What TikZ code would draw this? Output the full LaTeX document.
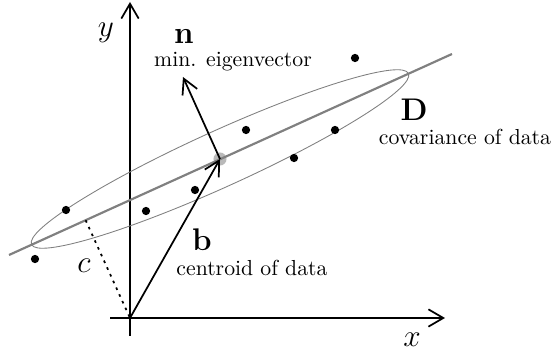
\documentclass[tikz,border=0pt]{standalone}
\usetikzlibrary{arrows.meta,calc}
\tikzset{
  axis/.style={thick, -{Straight Barb[length=2.4mm,width=2.8mm]}},
  vec/.style={thick, -{Straight Barb[length=2.4mm,width=2.6mm]}},
  fitline/.style={gray, line width=1pt},
  shell/.style={gray, line width=0.4pt},
  pt/.style={circle, fill=black, inner sep=0pt, minimum size=3.8pt},
  cpt/.style={circle, fill=gray!55, inner sep=0pt, minimum size=6pt},
  sym/.style={font=\Large},
  desc/.style={font=\normalsize}}

\begin{document}
\begin{tikzpicture}[x=0.46pt, y=0.46pt]
  \useasboundingbox (0,0) rectangle (556,355);
  % axes
  \coordinate (orig) at (130,37);
  \coordinate (xl) at (110,37); \coordinate (xr) at (445,37);
  \coordinate (yb) at (130,19); \coordinate (yt) at (130,353);
  \draw[axis] (xl) -- (xr);
  \draw[axis] (yb) -- (yt);
  \node[sym] (xlab) at (412,15) {$x$};
  \node[sym] (ylab) at (106,322) {$y$};
  % fitted line and covariance ellipse
  \coordinate (la) at (9,100); \coordinate (lb) at (452,301);
  \node[cpt] (cen) at (220,196) {};
  \draw[shell, rotate around={24.4:(cen.center)}] (cen.center) ellipse (207 and 28);
  \draw[fitline] (la) -- (lb);
  % data points
  \foreach \px/\py [count=\i] in {66/145, 146/144, 195/165, 35/96, 246/225, 294/197, 335/225, 355/297}
    \node[pt] (p\i) at (\px,\py) {};
  % distance to origin
  \coordinate (foot) at ($(la)!(orig)!(lb)$);
  \draw[thick, dash pattern=on 1.2pt off 2.2pt] (foot) -- (orig);
  \node[sym] (clab) at (84,89) {$c$};
  % vectors
  \coordinate (ntip) at (183,278);
  \draw[vec] (orig) -- (cen.center);
  \draw[vec] (cen.center) -- (ntip);
  \node[sym] (blab) at (202,115) {$\mathbf{b}$};
  \node[desc] (bdesc) at (252,87) {centroid of data};
  \node[sym] (nlab) at (184,318) {$\mathbf{n}$};
  \node[desc] (ndesc) at (233,293) {min. eigenvector};
  \node[sym] (dlab) at (414,245) {$\mathbf{D}$};
  \node[desc] (ddesc) at (465,218) {covariance of data};
\end{tikzpicture}
\end{document}
